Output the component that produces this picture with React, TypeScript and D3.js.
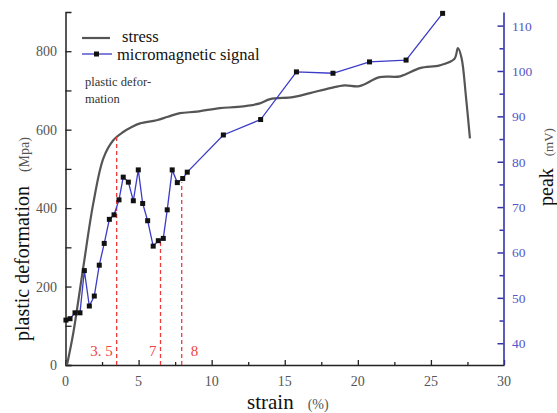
import {useEffect, useRef} from "react";
import * as d3 from "d3";

// stress curve (strain %, MPa)
const stressStrain = [0.1, 0.53, 1.22, 1.9, 2.59, 3.27, 3.95, 4.5, 5.1, 6.24, 7.0, 7.83, 9.0, 10.57, 11.8, 13.3, 14.0, 15.56, 16.72, 18.1, 19.1, 20.1, 21.5, 22.9, 24.25, 25.6, 26.6, 26.85, 27.1, 27.4, 27.67];
const stressMpa = [0, 81, 250, 412, 527, 573, 594, 606, 616, 624, 633, 642, 646, 655, 658, 667, 678, 683, 693, 706, 713, 711, 734, 736, 757, 764, 780, 808, 782, 683, 578];

// micromagnetic signal (strain %, mV)
const signalStrain = [0.03, 0.31, 0.65, 0.99, 1.29, 1.63, 1.97, 2.31, 2.65, 3.0, 3.32, 3.66, 3.95, 4.3, 4.64, 4.98, 5.28, 5.62, 6.0, 6.35, 6.69, 6.96, 7.3, 7.65, 8.02, 8.33, 10.8, 13.35, 15.8, 18.3, 20.8, 23.3, 25.8];
const signalPeak = [45.1, 45.4, 46.7, 46.7, 56.0, 48.2, 50.4, 57.2, 62.0, 67.3, 68.3, 71.6, 76.6, 75.5, 71.4, 78.2, 70.8, 67.0, 61.4, 62.6, 63.1, 69.4, 78.2, 75.4, 76.3, 77.7, 85.9, 89.3, 99.8, 99.5, 102.0, 102.4, 112.7];

// red dashed markers
const markerStrain = [3.5, 6.5, 7.95];
const markerTopMpa = [588, 318, 466];
const markerLabels = ["3. 5", "7", "8"];

const leftTicks = [0, 200, 400, 600, 800];
const rightTicks = [40, 50, 60, 70, 80, 90, 100, 110];
const xTicks = [0, 5, 10, 15, 20, 25, 30];

const serif = "Liberation Serif, DejaVu Serif, serif";

const App = () => {
	const svgRef = useRef(null);

	useEffect(() => {
		document.body.style.margin = "0";
		const svg = d3.select(svgRef.current);
		svg.selectAll("*").remove();

		const x = d3.scaleLinear().domain([0, 30]).range([65.5, 504]);
		const yL = d3.scaleLinear().domain([0, 900]).range([365, 12]);
		const yR = d3.scaleLinear().domain([35.2, 113]).range([365, 12]);

		// bottom axis
		const xAxis = svg.append("g").attr("transform", "translate(0,365)");
		xAxis.call(d3.axisBottom(x).tickValues(d3.range(0, 30.1, 2.5)).tickSize(-5).tickSizeOuter(0).tickFormat(() => ""));
		xAxis.selectAll(".tick line").attr("y2", (d) => (d % 5 === 0 ? -5 : -3));
		xAxis.select(".domain").attr("stroke", "#222").attr("stroke-width", 1.5);
		xAxis.selectAll(".tick line").attr("stroke", "#222").attr("stroke-width", 1.3);
		svg.append("g")
			.selectAll()
			.data(xTicks)
			.join("text")
			.attr("x", (d) => x(d))
			.attr("y", 386)
			.attr("text-anchor", "middle")
			.style("font-family", serif)
			.attr("font-size", 14)
			.attr("fill", "#555")
			.text((d) => d);

		// left axis
		const lAxis = svg.append("g").attr("transform", "translate(65.5,0)");
		lAxis.call(d3.axisLeft(yL).tickValues(d3.range(0, 801, 100)).tickSize(-6).tickSizeOuter(-6).tickFormat(() => ""));
		lAxis.select(".domain").attr("stroke", "#222").attr("stroke-width", 1.5);
		lAxis.selectAll(".tick line").attr("stroke", "#222").attr("stroke-width", 1.3);
		svg.append("g")
			.selectAll()
			.data(leftTicks)
			.join("text")
			.attr("x", 57)
			.attr("y", (d) => yL(d) + 5)
			.attr("text-anchor", "end")
			.style("font-family", serif)
			.attr("font-size", 14)
			.attr("fill", "#555")
			.text((d) => d);

		// right axis
		const rAxis = svg.append("g").attr("transform", "translate(503.5,0)");
		rAxis.call(d3.axisRight(yR).tickValues(d3.range(40, 111, 5)).tickSize(-6).tickSizeOuter(0).tickFormat(() => ""));
		rAxis.selectAll(".tick line").attr("x2", (d) => (d % 10 === 0 ? -6 : -4));
		rAxis.select(".domain").attr("stroke", "#3333aa").attr("stroke-width", 1.6);
		rAxis.selectAll(".tick line").attr("stroke", "#3333aa").attr("stroke-width", 1.5);
		svg.append("g")
			.selectAll()
			.data(rightTicks)
			.join("text")
			.attr("x", 512)
			.attr("y", (d) => yR(d) + 5)
			.style("font-family", serif)
			.attr("font-size", 13.5)
			.attr("fill", "#5555c8")
			.text((d) => d);

		// stress line
		svg.append("path")
			.datum(d3.zip(stressStrain, stressMpa))
			.attr("d", d3.line().x((d) => x(d[0])).y((d) => yL(d[1])).curve(d3.curveCatmullRom.alpha(0.5)))
			.attr("fill", "none")
			.attr("stroke", "#555")
			.attr("stroke-width", 2.2);

		// red markers
		const mk = svg.append("g");
		mk.selectAll("line")
			.data(markerStrain)
			.join("line")
			.attr("x1", (d) => x(d))
			.attr("x2", (d) => x(d))
			.attr("y1", 365)
			.attr("y2", (d, i) => yL(markerTopMpa[i]))
			.attr("stroke", "#f03a3a")
			.attr("stroke-width", 1.3)
			.attr("stroke-dasharray", "4,3");
		mk.selectAll("text")
			.data(markerLabels)
			.join("text")
			.attr("x", (d, i) => x(markerStrain[i]) + (i === 2 ? 9 : -4))
			.attr("y", 356)
			.attr("text-anchor", (d, i) => (i === 2 ? "start" : "end"))
			.style("font-family", serif)
			.attr("font-size", 15)
			.attr("fill", "#f04444")
			.text((d) => d);

		// signal line
		const sig = d3.zip(signalStrain, signalPeak);
		svg.append("path")
			.datum(sig)
			.attr("d", d3.line().x((d) => x(d[0])).y((d) => yR(d[1])))
			.attr("fill", "none")
			.attr("stroke", "#3b3bc8")
			.attr("stroke-width", 1.3);
		svg.append("g")
			.selectAll()
			.data(sig)
			.join("rect")
			.attr("x", (d) => x(d[0]) - 2.5)
			.attr("y", (d) => yR(d[1]) - 2.5)
			.attr("width", 5)
			.attr("height", 5)
			.attr("fill", "#111");

		// legend
		const lg = svg.append("g").style("font-family", serif).attr("font-size", 16.5).attr("fill", "#111");
		lg.append("line").attr("x1", 82).attr("x2", 110).attr("y1", 38).attr("y2", 38).attr("stroke", "#555").attr("stroke-width", 2.2);
		lg.append("text").attr("x", 122).attr("y", 42).text("stress");
		lg.append("line").attr("x1", 82).attr("x2", 112).attr("y1", 54).attr("y2", 54).attr("stroke", "#3b3bc8").attr("stroke-width", 1.3);
		lg.append("rect").attr("x", 94).attr("y", 51.5).attr("width", 5).attr("height", 5).attr("fill", "#111");
		lg.append("text").attr("x", 117).attr("y", 60).text("micromagnetic signal");

		// annotation
		const an = svg.append("g").style("font-family", serif).attr("font-size", 12.5).attr("fill", "#333");
		an.append("text").attr("x", 85).attr("y", 86).text("plastic defor-");
		an.append("text").attr("x", 85).attr("y", 103).text("mation");

		// axis titles
		const lt = svg.append("text")
			.attr("transform", "translate(29,341) rotate(-90)")
			.style("font-family", serif);
		lt.append("tspan").attr("font-size", 20).attr("fill", "#111").text("plastic deformation");
		lt.append("tspan").attr("dx", 14).attr("font-size", 14).attr("fill", "#555").text("(Mpa)");

		const rt = svg.append("text")
			.attr("transform", "translate(553,206) rotate(-90)")
			.style("font-family", serif);
		rt.append("tspan").attr("font-size", 20).attr("fill", "#111").text("peak");
		rt.append("tspan").attr("dx", 12).attr("font-size", 13).attr("fill", "#555").text("(mV)");

		const xt = svg.append("text").attr("x", 247).attr("y", 409).style("font-family", serif);
		xt.append("tspan").attr("font-size", 21).attr("fill", "#111").text("strain");
		xt.append("tspan").attr("dx", 14).attr("font-size", 14).attr("fill", "#555").text("(%)");
	}, []);

	return (
		<div style={{width: 557, height: 413}}>
			<svg ref={svgRef} width={557} height={413} style={{display: "block", background: "#fff"}}></svg>
		</div>
	);
};

export default App;
